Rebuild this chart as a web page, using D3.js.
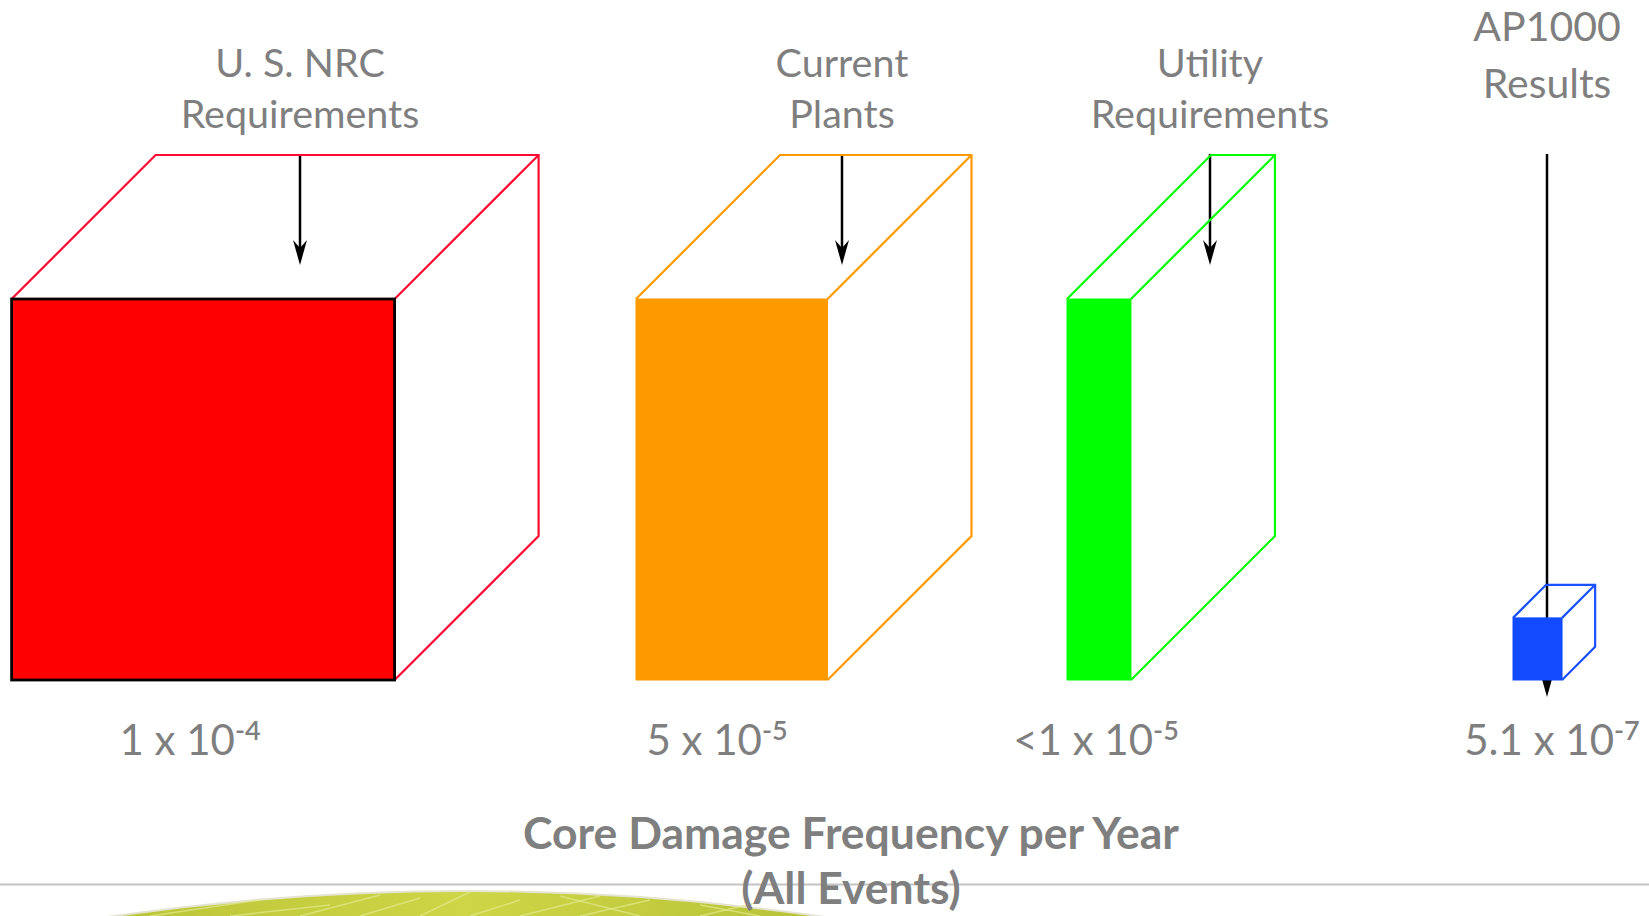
<!DOCTYPE html>
<html>
<head>
<meta charset="utf-8">
<script src="https://cdn.jsdelivr.net/npm/d3@7"></script>
<style>
  html, body { margin: 0; padding: 0; background: #ffffff; overflow: hidden; }
  svg { display: block; }
</style>
</head>
<body>
<svg id="chart" width="1649" height="916"></svg>
<script>
// ---------------- DATA ----------------
const categories = ["U. S. NRC Requirements", "Current Plants", "Utility Requirements", "AP1000 Results"];
const labelLines = [["U. S. NRC", "Requirements"], ["Current", "Plants"], ["Utility", "Requirements"], ["AP1000", "Results"]];
const cdfValues = [1e-4, 5e-5, 1e-5, 5.1e-7];
const cdfMantissa = ["1", "5", "<1", "5.1"];
const cdfExponent = ["-4", "-5", "-5", "-7"];
// relative box proportions as depicted in the illustration (NRC box = 1)
const depictedWidth = [1, 0.5, 0.167, 0.128];
const depictedHeight = [1, 1, 1, 0.163];
const depictedDepth = [1, 1, 1, 0.23];
const titleLines = ["Core Damage Frequency per Year", "(All Events)"];

// ---------------- LAYOUT / STYLE ----------------
const W = 1649, H = 916;
const floorY = 680;
const frontLeftX = [11.6, 636, 1067, 1513];
const labelCenterX = [300, 842, 1210, 1547];
const valueCenterX = [190, 717, 1096, 1552];
const edgeColors = ["#ff0a32", "#ff9900", "#00ff00", "#1a50ff"];
const fillColors = ["#ff0000", "#fd9a00", "#00ff00", "#124bff"];
const frontStroke = ["#000000", "#fd9a00", "#00ff00", "#124bff"];
const gray = "#7f7f7f";

const wScale = d3.scaleLinear().domain([0, 1]).range([0, 383]);
const hScale = d3.scaleLinear().domain([0, 1]).range([0, 381]);
const dScale = d3.scaleLinear().domain([0, 1]).range([0, 144]);

const svg = d3.select("#chart");

// ---------- decorative bottom strip ----------
const defs = svg.append("defs");
const grad = defs.append("linearGradient").attr("id", "leaf").attr("x1", 0).attr("x2", 1).attr("y1", 0).attr("y2", 0);
grad.append("stop").attr("offset", "0%").attr("stop-color", "#b8c236");
grad.append("stop").attr("offset", "50%").attr("stop-color", "#cdd646");
grad.append("stop").attr("offset", "100%").attr("stop-color", "#b6c036");

svg.append("path")
  .attr("d", "M 62 924 Q 466 858 870 924 Z")
  .attr("fill", "url(#leaf)")
  .attr("stroke", "#e4e4d0")
  .attr("stroke-width", 2);

const veins = [
  "M 150 916 L 260 900", "M 300 916 L 380 895", "M 420 916 L 470 892", "M 520 916 L 600 896",
  "M 640 916 L 560 896", "M 700 916 L 760 902", "M 230 916 L 330 905", "M 470 916 L 520 900",
  "M 360 916 L 420 898", "M 580 916 L 650 900", "M 760 916 L 700 905"
];
svg.append("g").selectAll("path").data(veins).join("path")
  .attr("d", d => d)
  .attr("stroke", "#e4ea8e")
  .attr("stroke-opacity", 0.7)
  .attr("stroke-width", 1.5)
  .attr("fill", "none");

svg.append("line")
  .attr("x1", 0).attr("x2", W).attr("y1", 884.5).attr("y2", 884.5)
  .attr("stroke", "#c4c4c4").attr("stroke-width", 2);

// ---------- arrows (drawn before boxes) ----------
const arrowTopY = 154;
const arrowTipY = [265, 265, 265, 697];
const arrows = svg.append("g");
categories.forEach((c, i) => {
  const x = labelCenterX[i];
  arrows.append("line")
    .attr("x1", x).attr("x2", x)
    .attr("y1", arrowTopY).attr("y2", arrowTipY[i] - 12)
    .attr("stroke", "#000").attr("stroke-width", 2.5);
  const t = arrowTipY[i];
  arrows.append("path")
    .attr("d", `M ${x} ${t} L ${x - 7} ${t - 25} L ${x} ${t - 17} L ${x + 7} ${t - 25} Z`)
    .attr("fill", "#000");
});

// ---------- boxes ----------
const boxes = svg.append("g");
categories.forEach((c, i) => {
  const w = wScale(depictedWidth[i]);
  const h = hScale(depictedHeight[i]);
  const d = dScale(depictedDepth[i]);
  const x0 = frontLeftX[i];
  const y0 = floorY - h;
  const g = boxes.append("g");
  const wire = d3.path();
  wire.moveTo(x0, y0); wire.lineTo(x0 + d, y0 - d);
  wire.lineTo(x0 + w + d, y0 - d);
  wire.lineTo(x0 + w + d, floorY - d);
  wire.lineTo(x0 + w, floorY);
  wire.moveTo(x0 + w, y0); wire.lineTo(x0 + w + d, y0 - d);
  g.append("path").attr("d", wire.toString())
    .attr("fill", "none").attr("stroke", edgeColors[i]).attr("stroke-width", 2.2)
    .attr("stroke-linejoin", "miter");
  g.append("rect")
    .attr("x", x0).attr("y", y0).attr("width", w).attr("height", h)
    .attr("fill", fillColors[i])
    .attr("stroke", frontStroke[i]).attr("stroke-width", i === 0 ? 2.8 : 1);
});

// ---------- category labels ----------
const labels = svg.append("g").attr("font-family", "Lato, 'Open Sans', sans-serif").attr("fill", gray).attr("text-anchor", "middle");
labelLines.forEach((lines, i) => {
  const big = i === 3;
  const y1 = big ? 41 : 77;
  const lh = big ? 57 : 51;
  lines.forEach((ln, j) => {
    labels.append("text")
      .attr("x", labelCenterX[i])
      .attr("y", y1 + j * lh)
      .attr("font-size", big ? 41 : 39.5)
      .text(ln);
  });
});

// ---------- value labels ----------
const vals = svg.append("g").attr("font-family", "Lato, 'Open Sans', sans-serif").attr("fill", gray).attr("text-anchor", "middle");
cdfValues.forEach((v, i) => {
  const t = vals.append("text")
    .attr("x", valueCenterX[i])
    .attr("y", 755)
    .attr("font-size", 42);
  t.append("tspan").text(cdfMantissa[i] + " x 10");
  t.append("tspan").attr("font-size", 27).attr("font-weight", 600).attr("dy", -15).text(cdfExponent[i]);
});

// ---------- title ----------
const title = svg.append("g").attr("font-family", "Lato, 'Open Sans', sans-serif").attr("font-weight", "bold").attr("fill", gray).attr("text-anchor", "middle");
titleLines.forEach((ln, j) => {
  title.append("text").attr("x", 851).attr("y", 849 + j * 55).attr("font-size", 44.5).text(ln);
});
</script>
</body>
</html>
